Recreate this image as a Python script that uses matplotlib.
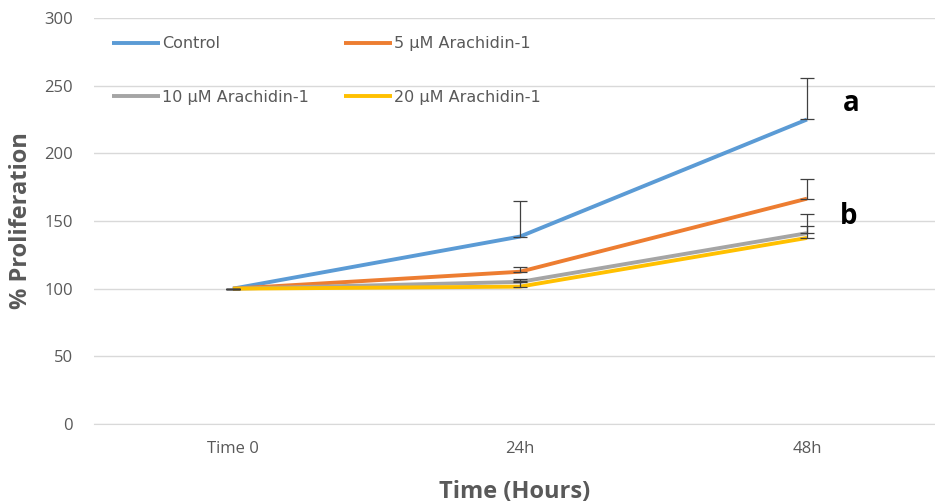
import matplotlib.pyplot as plt

times = ['Time 0', '24h', '48h']
control = [100, 138.5, 225]
control_err = [0, 26, 31]
ara5 = [100, 112.5, 166.5]
ara5_err = [0, 3.5, 14.5]
ara10 = [100, 105, 141]
ara10_err = [0, 2.5, 14.5]
ara20 = [100, 101.5, 137.5]
ara20_err = [0, 4, 8.5]

labels = ['Control', '5 µM Arachidin-1', '10 µM Arachidin-1', '20 µM Arachidin-1']
colors = ['#5B9BD5', '#ED7D31', '#A5A5A5', '#FFC000']
series = [control, ara5, ara10, ara20]
errors = [control_err, ara5_err, ara10_err, ara20_err]

plt.rcParams['font.family'] = ['Open Sans', 'DejaVu Sans']

fig = plt.figure(figsize=(9.35, 5.04), dpi=100)
ax = fig.add_axes([94 / 935, 80 / 504, 841 / 935, 406 / 504])

x = list(range(len(times)))
handles = []
for vals, c, lab in zip(series, colors, labels):
    h, = ax.plot(x, vals, color=c, lw=2.8, label=lab, solid_capstyle='butt', zorder=3)
    handles.append(h)
for vals, err in zip(series, errors):
    ax.errorbar(x, vals, yerr=[[0] * len(err), err], fmt='none', ecolor='#404040',
                elinewidth=0.9, capsize=5, capthick=0.9, zorder=4)

ax.set_xlim(-0.484, 2.446)
ax.set_ylim(0, 300)
ax.set_yticks(range(0, 301, 50))
ax.set_xticks(x)
ax.set_xticklabels(times)
ax.grid(axis='y', color='#d9d9d9', lw=1)
ax.set_axisbelow(True)
for s in ['top', 'right', 'left']:
    ax.spines[s].set_visible(False)
ax.spines['bottom'].set_color('#d9d9d9')
ax.tick_params(axis='both', length=0, colors='#595959', labelsize=12)
ax.tick_params(axis='y', pad=15)
ax.tick_params(axis='x', pad=12)

ax.set_ylabel('% Proliferation', fontsize=17, fontweight='bold', color='#595959', labelpad=8)
ax.set_xlabel('Time (Hours)', fontsize=17, fontweight='bold', color='#595959', labelpad=17)

ax.text(2.155, 237, 'a', fontsize=20, fontweight='bold', ha='center', va='center')
ax.text(2.145, 153, 'b', fontsize=20, fontweight='bold', ha='center', va='center')

order = [0, 2, 1, 3]
ax.legend([handles[i] for i in order], [labels[i] for i in order],
          loc='upper left', bbox_to_anchor=(0.004, 0.99), ncol=2, frameon=False,
          prop={'family': 'DejaVu Sans', 'size': 11.5}, labelcolor='#595959',
          handlelength=3.0, handletextpad=0.15, columnspacing=2.2, labelspacing=2.4)

fig.savefig('out.png', dpi=100)
